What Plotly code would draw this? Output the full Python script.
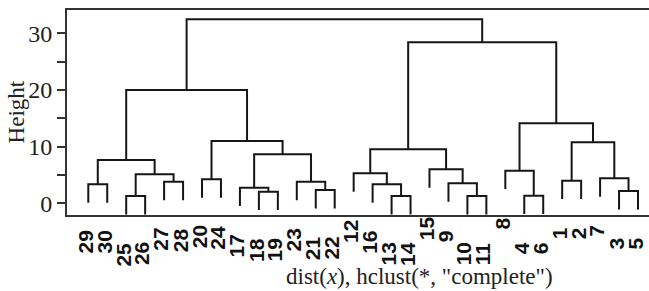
import plotly.graph_objects as go

# Leaf order along the x axis (labels as printed)
leaf_order = [29, 30, 25, 26, 27, 28, 20, 24, 17, 18, 19, 23, 21, 22,
              12, 16, 13, 14, 15, 9, 10, 11, 8, 4, 6, 1, 2, 7, 3, 5]

# R-style merge table: negative = leaf label, positive = earlier merge (1-based)
merge_left = [-25, -13, -10, -4, -18, -3, -21, -17, -29, -16, -9, -23, -27,
              -1, -20, -7, -12, -8, -15, 1, 9, 8, 17, 14, 15, 18, 21, 23, 27]
merge_right = [-26, -14, -11, -6, -19, -5, -22, 5, -30, 2, 3, 7, -28,
               -2, -24, 6, 10, 4, 11, 13, 20, 12, 19, 16, 22, 24, 25, 26, 28]
merge_height = [1.29, 1.29, 1.29, 1.35, 2.05, 2.17, 2.35, 2.76, 3.35, 3.35,
                3.53, 3.81, 3.81, 3.99, 4.23, 4.41, 5.29, 5.76, 6.00, 5.12,
                7.64, 8.64, 9.53, 10.76, 11.00, 14.12, 20.00, 28.40, 32.47]

y_ticks = [0, 5, 10, 15, 20, 25, 30]
y_ticktext = ["0", "", "10", "", "20", "", "30"]

hang = 0.1 * max(merge_height)
leaf_x = {lab: i + 1 for i, lab in enumerate(leaf_order)}
node_x = {}
leaf_end = {}

seg_x, seg_y = [], []


def child_info(ref, h):
    if ref < 0:
        y0 = h - hang
        leaf_end[-ref] = y0
        return leaf_x[-ref], y0
    return node_x[ref], merge_height[ref - 1]


for k, (a, b, h) in enumerate(zip(merge_left, merge_right, merge_height), start=1):
    xa, ya = child_info(a, h)
    xb, yb = child_info(b, h)
    node_x[k] = (xa + xb) / 2
    seg_x += [xa, xa, xb, xb, None]
    seg_y += [ya, h, h, yb, None]

fig = go.Figure()
fig.add_trace(go.Scatter(x=seg_x, y=seg_y, mode="lines",
                         line=dict(color="#161616", width=2),
                         hoverinfo="skip", showlegend=False))

for lab in leaf_order:
    fig.add_annotation(x=leaf_x[lab], y=leaf_end[lab], xref="x", yref="y",
                       text="<b>%d</b>" % lab, textangle=-90, showarrow=False,
                       xanchor="center", yanchor="top", yshift=-26, xshift=-3,
                       font=dict(family="Liberation Sans", size=21, color="#111"))

fig.add_annotation(x=-0.086, y=0.505, xref="paper", yref="paper", text="Height",
                   textangle=-90, showarrow=False, xanchor="center", yanchor="middle",
                   font=dict(family="Liberation Serif", size=23, color="#222"))
fig.add_annotation(x=0.6065, y=-0.2976, xref="paper", yref="paper",
                   text='dist(<i>x</i>), hclust(*, "complete")',
                   showarrow=False, xanchor="center", yanchor="middle",
                   font=dict(family="Liberation Serif", size=23, color="#222"))

fig.update_layout(
    width=649, height=291,
    margin=dict(l=67, r=0, t=10, b=76),
    paper_bgcolor="white", plot_bgcolor="white",
    xaxis=dict(range=[-0.123, 30.58], showgrid=False, zeroline=False,
               showticklabels=False, ticks="", showline=True, mirror=True,
               linecolor="#333", linewidth=2),
    yaxis=dict(range=[-2.06, 34.11], showgrid=False, zeroline=False,
               tickvals=y_ticks, ticktext=y_ticktext, ticks="outside",
               ticklen=8, tickwidth=2, tickcolor="#333",
               showline=True, mirror=False, linecolor="#333", linewidth=2,
               tickfont=dict(family="Liberation Serif", size=24, color="#222")),
)

fig.write_html("out.html", config={"displayModeBar": False},
               post_script="document.body.style.margin='0';document.body.style.overflow='hidden';")
